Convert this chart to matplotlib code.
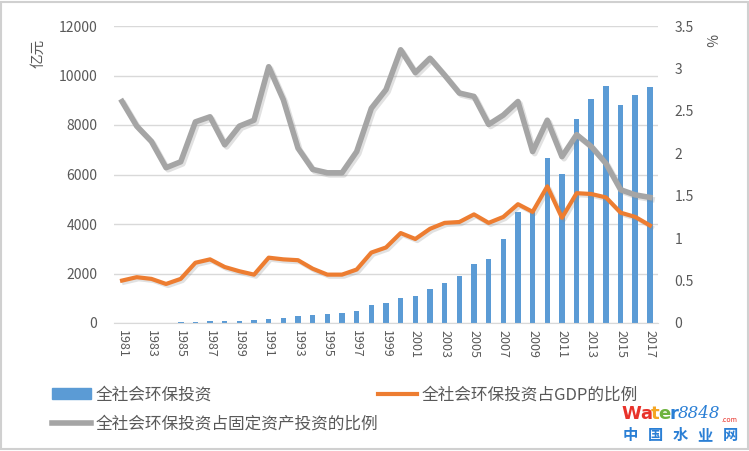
import numpy as np
import matplotlib.pyplot as plt
import matplotlib.patheffects as pe
from matplotlib.patches import Rectangle, Patch
from matplotlib.lines import Line2D

plt.rcParams['font.family'] = ['Noto Sans CJK SC', 'DejaVu Sans']

years = list(range(1981, 2018))
# 全社会环保投资 (亿元)
invest = [0, 0, 0, 0, 30, 40, 80, 90, 100, 110, 170, 205, 269, 307, 355, 408, 502,
          721, 823, 1015, 1106, 1367, 1627, 1909, 2388, 2566, 3387, 4490, 4525,
          6654, 6026, 8253, 9037, 9576, 8806, 9220, 9539]
# 占GDP的比例 (%)
gdp_ratio = [0.50, 0.54, 0.52, 0.46, 0.52, 0.71, 0.75, 0.66, 0.61, 0.57, 0.77, 0.75,
             0.74, 0.64, 0.57, 0.57, 0.63, 0.83, 0.89, 1.06, 0.99, 1.11, 1.18, 1.19,
             1.28, 1.18, 1.25, 1.40, 1.31, 1.61, 1.24, 1.53, 1.52, 1.48, 1.30, 1.25, 1.15]
# 占固定资产投资的比例 (%)
fa_ratio = [2.61, 2.32, 2.14, 1.83, 1.90, 2.37, 2.43, 2.10, 2.32, 2.39, 3.02, 2.63,
            2.06, 1.81, 1.77, 1.77, 2.02, 2.53, 2.75, 3.22, 2.95, 3.12, 2.92, 2.71,
            2.67, 2.34, 2.45, 2.61, 2.02, 2.39, 1.96, 2.22, 2.08, 1.88, 1.57, 1.51, 1.48]

labels = ['全社会环保投资', '全社会环保投资占GDP的比例', '全社会环保投资占固定资产投资的比例']
blue, orange, grey = '#5B9BD5', '#ED7D31', '#A5A5A5'
txt = '#595959'

W, H = 749, 451
fig = plt.figure(figsize=(W / 100, H / 100), dpi=100)
ax = fig.add_axes([114 / W, 1 - 323 / H, 544 / W, 297 / H])
ax2 = ax.twinx()

ax.bar(years, invest, width=0.38, color=blue, zorder=2)
shadow = [pe.SimpleLineShadow(offset=(1.5, -1.5), alpha=0.25, shadow_color='#888888'), pe.Normal()]
ax2.plot(years, gdp_ratio, color=orange, lw=3, solid_joinstyle='round', path_effects=shadow, zorder=3)
ax2.plot(years, fa_ratio, color=grey, lw=4, solid_joinstyle='round', path_effects=shadow, zorder=3)

ax.set_xlim(1980.45, 2017.55)
ax.set_ylim(0, 12000)
ax.set_yticks(range(0, 12001, 2000))
ax2.set_ylim(0, 3.5)
ax2.set_yticks([0, 0.5, 1, 1.5, 2, 2.5, 3, 3.5])
ax2.set_yticklabels(['0', '0.5', '1', '1.5', '2', '2.5', '3', '3.5'])
ax.set_xticks(years[::2])
ax.set_xticklabels([str(y) for y in years[::2]], rotation=270)
ax.grid(axis='y', color='#d9d9d9', lw=1, zorder=0)
ax.set_axisbelow(True)

for a in (ax, ax2):
    for s in a.spines.values():
        s.set_visible(False)
    a.tick_params(length=0, labelsize=10, colors=txt)
ax.spines['bottom'].set_visible(True)
ax.spines['bottom'].set_color('#d9d9d9')
ax.tick_params(axis='x', labelsize=9, pad=5)
ax.tick_params(axis='y', pad=12)
ax2.tick_params(axis='y', pad=12)

fig.text(38 / W, 1 - 53 / H, '亿元', rotation=90, ha='center', va='center', fontsize=10.5, color=txt)
fig.text(710 / W, 1 - 40 / H, '%', rotation=270, ha='center', va='center', fontsize=10, color=txt)

handles = [Patch(color=blue), Line2D([], [], color=grey, lw=4), Line2D([], [], color=orange, lw=3)]
fig.legend(handles, [labels[0], labels[2], labels[1]], ncol=2, loc='upper left',
           bbox_to_anchor=(44 / W, 1 - 378 / H), frameon=False, fontsize=12,
           labelcolor=txt, handlelength=2.3, columnspacing=0.0, labelspacing=0.75,
           handletextpad=0.3, borderpad=0)

# watermark
renderer = fig.canvas.get_renderer()
wm_y = 1 - 414 / H
x = 621
for ch, col in zip('Water', ['#e8322a', '#e8322a', '#f5a623', '#6cb33e', '#2a7fd5']):
    t = fig.text(x / W, wm_y, ch, color=col, fontsize=13, fontweight='bold',
                 family='DejaVu Sans', ha='left', va='center')
    x += t.get_window_extent(renderer).width - 1
t = fig.text(x / W, wm_y, '8848', color='#2a7fd5', fontsize=12, style='italic',
             family='DejaVu Serif', ha='left', va='center')
x += t.get_window_extent(renderer).width + 1
fig.text(x / W, 1 - 420 / H, '.com', color='#e8322a', fontsize=5, ha='left', va='center')
for i, ch in enumerate('中国水业网'):
    fig.text((630 + i * 25) / W, 1 - 435 / H, ch, color='#2a7fd5', fontsize=11,
             fontweight='bold', ha='center', va='center')

fig.patches.append(Rectangle((0.002, 0.004), 0.996, 0.992, transform=fig.transFigure,
                             fill=False, edgecolor='#d0d0d0', lw=1.5))

fig.savefig('out.png', dpi=100)
